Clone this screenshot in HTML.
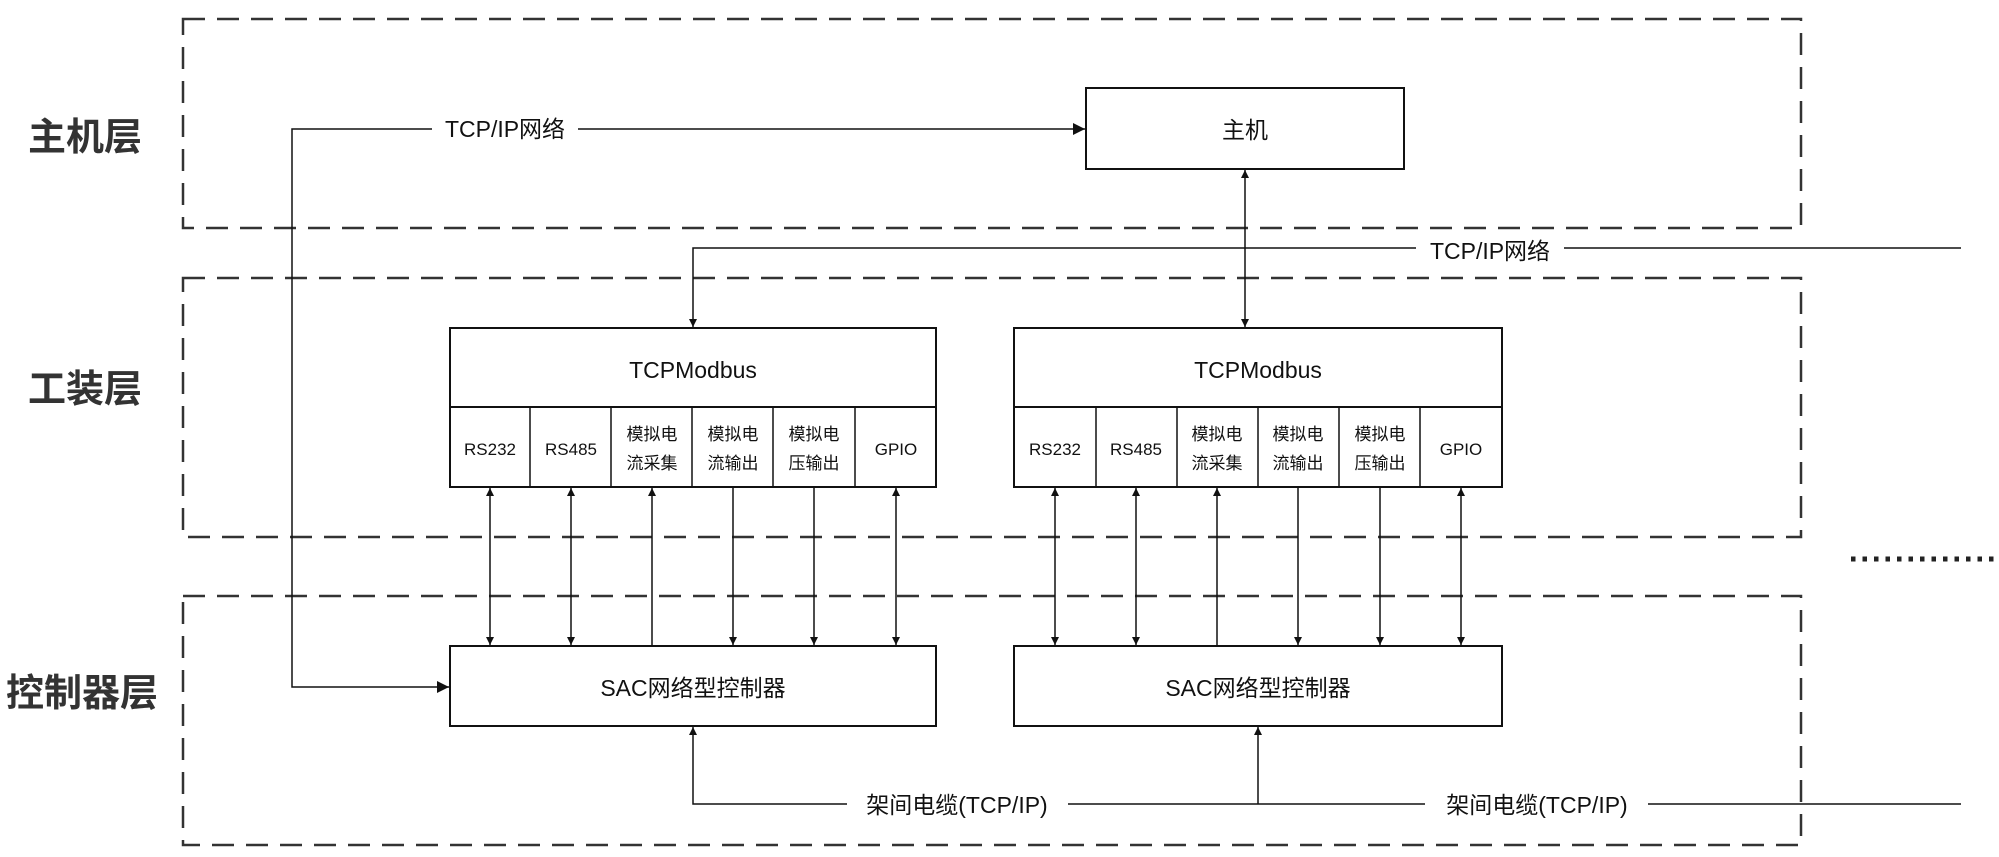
<!DOCTYPE html>
<html><head><meta charset="utf-8"><style>
html,body{margin:0;padding:0;background:#fff;}
svg{display:block;}
text{font-family:"Liberation Sans","Noto Sans CJK SC",sans-serif;fill:#111;}
</style></head><body>
<svg width="1999" height="857" viewBox="0 0 1999 857" xmlns="http://www.w3.org/2000/svg">
<defs>
<marker id="a" viewBox="0 0 10 10" refX="10" refY="5" markerWidth="8" markerHeight="8" markerUnits="userSpaceOnUse" orient="auto-start-reverse"><path d="M0,0 L10,5 L0,10 z" fill="#111"/></marker>
<marker id="b" viewBox="0 0 10 10" refX="10" refY="5" markerWidth="12" markerHeight="12" markerUnits="userSpaceOnUse" orient="auto-start-reverse"><path d="M0,0 L10,5 L0,10 z" fill="#111"/></marker>
</defs>
<g fill="none" stroke="#333" stroke-width="2.5" stroke-dasharray="22 12">
<rect x="183" y="19" width="1618" height="209"/>
<rect x="183" y="278" width="1618" height="259"/>
<rect x="183" y="596" width="1618" height="249"/>
</g>
<g font-weight="bold" font-size="38" style="fill:#333">
<text x="28" y="150" style="fill:#333">主机层</text>
<text x="28" y="402" style="fill:#333">工装层</text>
<text x="6" y="706" style="fill:#333">控制器层</text>
</g>
<g stroke="#111" stroke-width="2" fill="none">
<!-- host box -->
<rect x="1086" y="88" width="318" height="81"/>
<!-- TCPModbus boxes -->
<rect x="450" y="328" width="486" height="159"/>
<line x1="450" y1="407" x2="936" y2="407"/>
<rect x="1014" y="328" width="488" height="159"/>
<line x1="1014" y1="407" x2="1502" y2="407"/>
<!-- SAC boxes -->
<rect x="450" y="646" width="486" height="80"/>
<rect x="1014" y="646" width="488" height="80"/>
</g>
<g stroke="#111" stroke-width="1.5" fill="none">
<line x1="530" y1="407" x2="530" y2="487"/><line x1="611" y1="407" x2="611" y2="487"/><line x1="692" y1="407" x2="692" y2="487"/><line x1="773" y1="407" x2="773" y2="487"/><line x1="855" y1="407" x2="855" y2="487"/>
<line x1="1096" y1="407" x2="1096" y2="487"/><line x1="1177" y1="407" x2="1177" y2="487"/><line x1="1258" y1="407" x2="1258" y2="487"/><line x1="1339" y1="407" x2="1339" y2="487"/><line x1="1420" y1="407" x2="1420" y2="487"/>
<!-- network 1 -->
<polyline points="432,129 292,129 292,687 449,687" marker-end="url(#b)"/>
<line x1="578" y1="129" x2="1085" y2="129" marker-end="url(#b)"/>
<!-- network 2 -->
<polyline points="1416,248 693,248 693,327" marker-end="url(#a)"/>
<line x1="1564" y1="248" x2="1961" y2="248"/>
<line x1="1245" y1="170" x2="1245" y2="327" marker-start="url(#a)" marker-end="url(#a)"/>
<!-- cable -->
<polyline points="847,804 693,804 693,727" marker-end="url(#a)"/>
<line x1="1068" y1="804" x2="1425" y2="804"/>
<line x1="1258" y1="804" x2="1258" y2="727" marker-end="url(#a)"/>
<line x1="1648" y1="804" x2="1961" y2="804"/>
<!-- signal arrows left -->
<line x1="490" y1="488" x2="490" y2="645" marker-start="url(#a)" marker-end="url(#a)"/>
<line x1="571" y1="488" x2="571" y2="645" marker-start="url(#a)" marker-end="url(#a)"/>
<line x1="652" y1="646" x2="652" y2="488" marker-end="url(#a)"/>
<line x1="733" y1="487" x2="733" y2="645" marker-end="url(#a)"/>
<line x1="814" y1="487" x2="814" y2="645" marker-end="url(#a)"/>
<line x1="896" y1="488" x2="896" y2="645" marker-start="url(#a)" marker-end="url(#a)"/>
<!-- signal arrows right -->
<line x1="1055" y1="488" x2="1055" y2="645" marker-start="url(#a)" marker-end="url(#a)"/>
<line x1="1136" y1="488" x2="1136" y2="645" marker-start="url(#a)" marker-end="url(#a)"/>
<line x1="1217" y1="646" x2="1217" y2="488" marker-end="url(#a)"/>
<line x1="1298" y1="487" x2="1298" y2="645" marker-end="url(#a)"/>
<line x1="1380" y1="487" x2="1380" y2="645" marker-end="url(#a)"/>
<line x1="1461" y1="488" x2="1461" y2="645" marker-start="url(#a)" marker-end="url(#a)"/>
</g>
<g font-size="23" text-anchor="middle">
<text x="505" y="137">TCP/IP网络</text>
<text x="1490" y="259">TCP/IP网络</text>
<text x="1245" y="138">主机</text>
<text x="693" y="378">TCPModbus</text>
<text x="1258" y="378">TCPModbus</text>
<text x="693" y="696">SAC网络型控制器</text>
<text x="1258" y="696">SAC网络型控制器</text>
<text x="957" y="813">架间电缆(TCP/IP)</text>
<text x="1537" y="813">架间电缆(TCP/IP)</text>
</g>
<g font-size="17" text-anchor="middle">
<text x="490" y="455">RS232</text><text x="571" y="455">RS485</text>
<text x="652" y="440">模拟电</text><text x="652" y="469">流采集</text>
<text x="733" y="440">模拟电</text><text x="733" y="469">流输出</text>
<text x="814" y="440">模拟电</text><text x="814" y="469">压输出</text>
<text x="896" y="455">GPIO</text>
<text x="1055" y="455">RS232</text><text x="1136" y="455">RS485</text>
<text x="1217" y="440">模拟电</text><text x="1217" y="469">流采集</text>
<text x="1298" y="440">模拟电</text><text x="1298" y="469">流输出</text>
<text x="1380" y="440">模拟电</text><text x="1380" y="469">压输出</text>
<text x="1461" y="455">GPIO</text>
</g>
<line x1="1851" y1="559" x2="1995" y2="559" stroke="#222" stroke-width="5" stroke-dasharray="4.5 7" stroke-linecap="butt"/>
</svg>
</body></html>
